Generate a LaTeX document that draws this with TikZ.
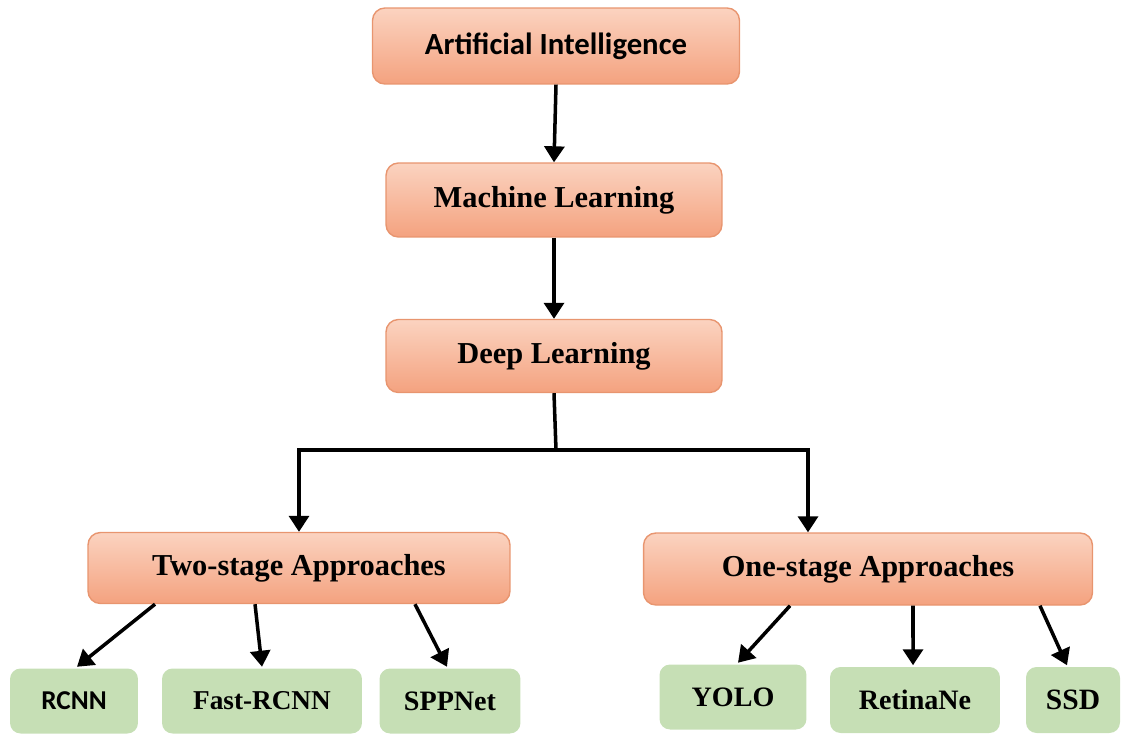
\documentclass[tikz,border=0pt]{standalone}
\usepackage{fontspec}
\setmainfont{Liberation Serif}
\newfontfamily\calibri{Carlito}
\usetikzlibrary{arrows.meta, calc}
\definecolor{otop}{HTML}{FBD3C0}
\definecolor{obot}{HTML}{F4A27F}
\definecolor{oline}{HTML}{E8956F}
\definecolor{lgreen}{HTML}{C6DFB5}
\tikzset{
  every picture/.style={line width=2pt},
  obox/.style={draw=oline, line width=0.8pt, top color=otop, bottom color=obot, rounded corners=7pt, align=center, inner sep=2pt, font=\bfseries\fontsize{17.3}{20}\selectfont},
  gbox/.style={fill=lgreen, rounded corners=6pt, align=center, inner sep=2pt, minimum height=1.3cm, font=\bfseries\fontsize{16}{19}\selectfont},
  arrow/.style={-{Triangle[length=3.2mm, width=4mm]}, draw=black, line width=2pt},
}
\begin{document}
\begin{tikzpicture}[x=0.02cm, y=-0.02cm]
  \useasboundingbox (0,0) rectangle (1136,734);
  % main chain
  \node[obox, minimum width=7.34cm, minimum height=1.52cm, font=\calibri\bfseries\fontsize{17.5}{20}\selectfont] (ai) at (556,46) {Artificial Intelligence};
  \node[obox, minimum width=6.72cm, minimum height=1.48cm] (ml) at (554,200) {Machine Learning};
  \node[obox, minimum width=6.72cm, minimum height=1.46cm] (dl) at (554,356) {Deep Learning};
  \draw[arrow] (ai.south) -- (ml.north);
  \draw[arrow] (ml.south) -- (dl.north);
  % the two families
  \node[obox, minimum width=8.44cm, minimum height=1.42cm] (two) at (299,568) {Two-stage Approaches};
  \node[obox, minimum width=8.98cm, minimum height=1.44cm] (one) at (868,569) {One-stage Approaches};
  \coordinate (split) at (556,450);
  \draw (dl.south) -- (split);
  \draw[arrow] (split) -| (two.north);
  \draw[arrow] (split) -| ([xshift=-1.2cm]one.north);
  % detectors
  \node[gbox, minimum width=2.56cm, font=\calibri\bfseries\fontsize{15.5}{18}\selectfont] (rcnn) at (74,701) {RCNN};
  \node[gbox, minimum width=4.0cm, font=\bfseries\fontsize{15.5}{18}\selectfont] (fast) at (262,701) {Fast-RCNN};
  \node[gbox, minimum width=2.82cm] (spp) at (450,701) {SPPNet};
  \node[gbox, minimum width=2.94cm] (yolo) at (733,697) {YOLO};
  \node[gbox, minimum width=3.4cm, minimum height=1.32cm] (retina) at (915,700) {RetinaNe};
  \node[gbox, minimum width=1.88cm, minimum height=1.32cm, font=\bfseries\fontsize{16.8}{19}\selectfont] (ssd) at (1073,700) {SSD};
  \draw[arrow] ([xshift=-2.88cm]two.south) -- ([xshift=0.06cm]rcnn.north);
  \draw[arrow] ([xshift=-0.88cm]two.south) -- (fast.north);
  \draw[arrow] ([xshift=2.32cm]two.south) -- ([xshift=-0.06cm]spp.north);
  \draw[arrow] ([xshift=-1.56cm]one.south) -- ([xshift=0.1cm]yolo.north);
  \draw[arrow] ([xshift=0.9cm]one.south) -- ([xshift=-0.04cm]retina.north);
  \draw[arrow] ([xshift=3.44cm]one.south) -- ([xshift=-0.12cm]ssd.north);
\end{tikzpicture}
\end{document}
